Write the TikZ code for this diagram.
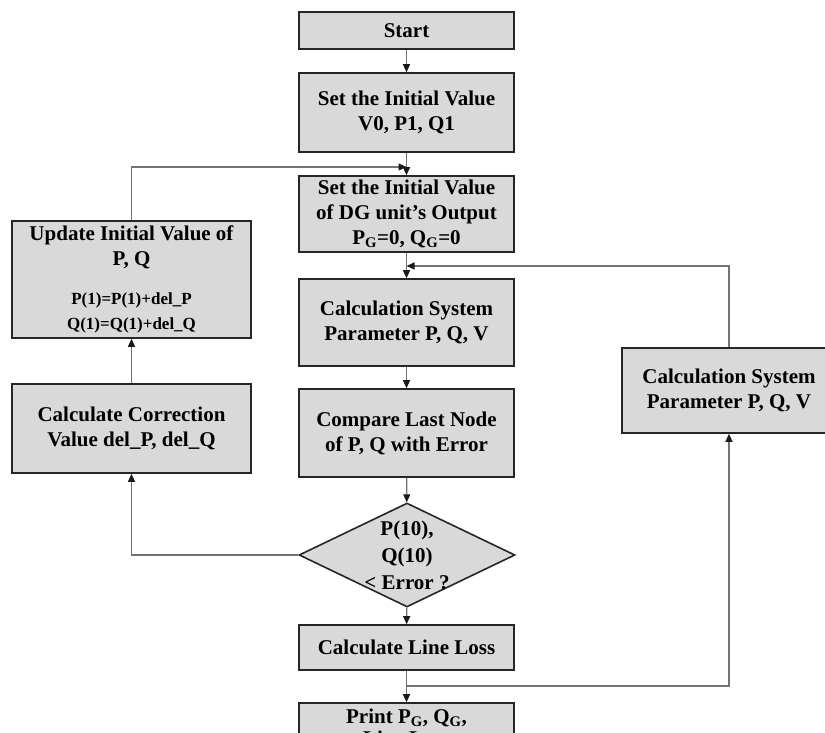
\documentclass[tikz,border=0pt]{standalone}
\usepackage{fontspec}
\setmainfont{Liberation Serif}
\usetikzlibrary{shapes.geometric,arrows.meta}
\tikzset{
  box/.style={draw=black!85,line width=1.6pt,fill=black!15,align=center,
    inner sep=2pt,font=\bfseries\fontsize{21}{25}\selectfont},
  dia/.style={diamond,draw=black!85,line width=1.6pt,fill=black!15,
    inner sep=0pt,minimum width=216,minimum height=104},
  txt/.style={align=center,inner sep=0pt,font=\bfseries\fontsize{21}{27}\selectfont},
  flow/.style={draw=black!55,line width=1.2pt,
    -{Triangle[length=8pt,width=7pt,color=black!90]}}
}
\newcommand{\smalltxt}{\fontsize{17}{22}\selectfont}
\begin{document}
\begin{tikzpicture}[x=1pt,y=-1pt]
      \useasboundingbox (0,0) rectangle (825,733);
      \clip (0,0) rectangle (825,733);
      \draw
        (406.5,30.5) node[box,minimum width=215,minimum height=37] (start){Start}
        (406.5,112.5) node[box,minimum width=215,minimum height=79] (init){Set the Initial Value\\V0, P1, Q1}
        (406.5,214) node[box,minimum width=215,minimum height=76] (dg){Set the Initial Value\\of DG unit’s Output\\P\textsubscript{G}=0, Q\textsubscript{G}=0}
        (406.5,322.5) node[box,minimum width=215,minimum height=87] (calc){Calculation System\\Parameter P, Q, V}
        (406.5,433) node[box,minimum width=215,minimum height=88] (cmp){Compare Last Node\\of P, Q with Error}
        (407,555) node[dia] (dec){}
        (407,555) node[txt] (dectxt){P(10),\\Q(10)\\< Error ?}
        (406.5,647.5) node[box,minimum width=215,minimum height=45] (loss){Calculate Line Loss}
        (406.5,727) node[box,minimum width=215,minimum height=48] (prnt){Print P\textsubscript{G}, Q\textsubscript{G},\\[-3pt]Line Loss}
        (729,390.5) node[box,minimum width=214,minimum height=85] (rcalc){Calculation System\\Parameter P, Q, V}
        (131.5,279.5) node[box,minimum width=239,minimum height=117] (upd){Update Initial Value of\\P, Q\\[14pt]{\smalltxt P(1)=P(1)+del\_P}\\{\smalltxt Q(1)=Q(1)+del\_Q}}
        (131.5,428.5) node[box,minimum width=239,minimum height=89] (corr){Calculate Correction\\Value del\_P, del\_Q};
      \coordinate (j1) at (406.5,167);
      \coordinate (j2) at (406.5,266);
      \coordinate (j3) at (406.5,686);
      \begin{scope}[flow]
        \draw (start) to (init);
        \draw (init) to (dg);
        \draw (dg) to (calc);
        \draw (calc) to (cmp);
        \draw (cmp) to (dec);
        \draw (dec) to (loss);
        \draw (loss) to (prnt);
        \draw (dec.west) -| (corr.south);
        \draw (corr) to (upd);
        \draw (upd.north) |- (j1);
        \draw (rcalc.north) |- (j2);
        \draw (j3) -| (rcalc.south);
      \end{scope}
    \end{tikzpicture}
\end{document}
